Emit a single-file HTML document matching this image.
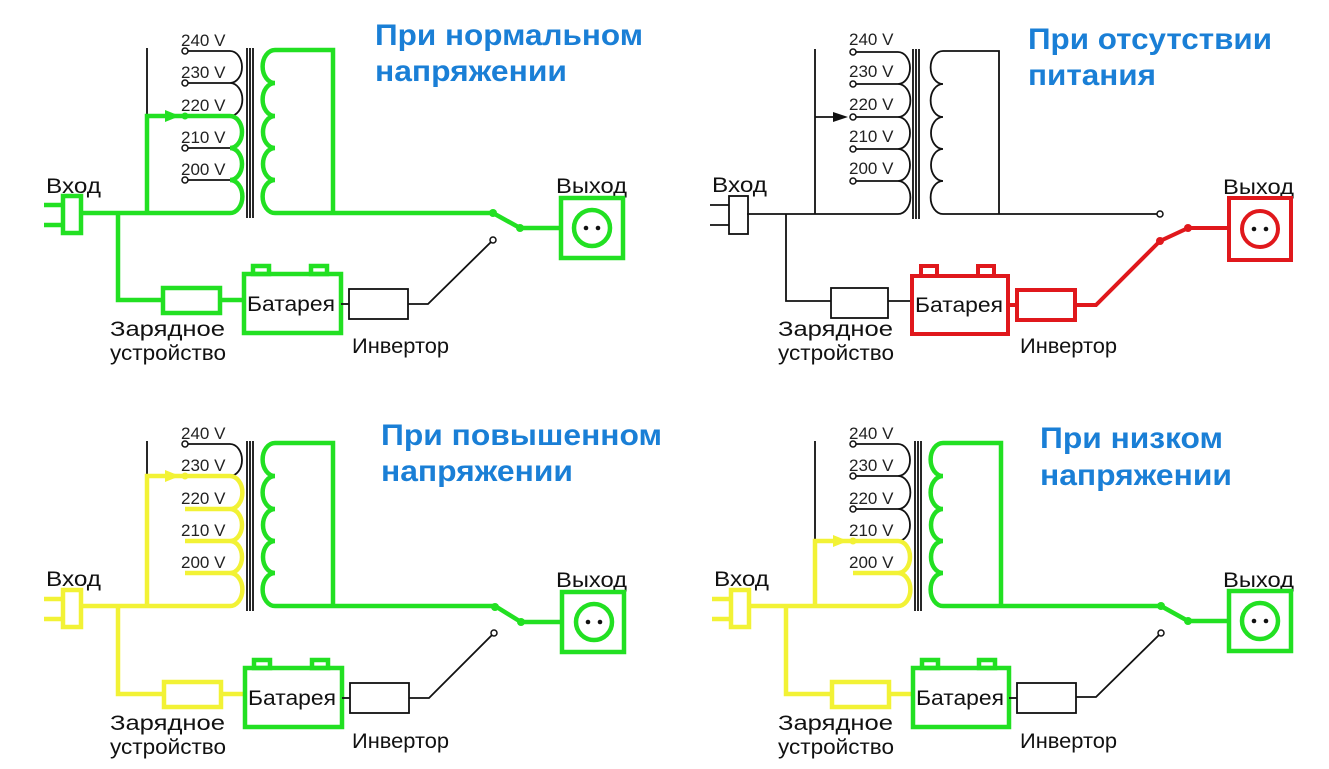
<!DOCTYPE html>
<html><head><meta charset="utf-8"><style>
html,body{margin:0;padding:0;background:#fff;}
svg{display:block;}
text{font-family:"Liberation Sans",sans-serif;}
.v{font-size:17px;fill:#222;}
.l{font-size:21px;fill:#111;}
.t{font-size:30px;font-weight:bold;fill:#1a7fd6;}
.k{stroke:#111;stroke-width:1.8;fill:none;}
.G{stroke:#22e022;stroke-width:4.5;fill:none;}
.Y{stroke:#f2f235;stroke-width:4.5;fill:none;}
.R{stroke:#e0181c;stroke-width:4;fill:none;}
</style></head><body>
<svg width="1329" height="769" viewBox="0 0 1329 769" xmlns="http://www.w3.org/2000/svg">

<!-- Panel 1 -->
<g>
<text class="v" x="181" y="46">240 V</text><text class="v" x="181" y="78">230 V</text><text class="v" x="181" y="111">220 V</text><text class="v" x="181" y="143">210 V</text><text class="v" x="181" y="175">200 V</text>
<text class="l" x="46" y="193" textLength="55" lengthAdjust="spacingAndGlyphs">Вход</text><text class="l" x="556" y="193" textLength="71" lengthAdjust="spacingAndGlyphs">Выход</text>
<text class="l" x="110" y="336" textLength="115" lengthAdjust="spacingAndGlyphs">Зарядное</text><text class="l" x="110" y="360" textLength="116" lengthAdjust="spacingAndGlyphs">устройство</text>
<text class="l" x="352" y="353" textLength="97" lengthAdjust="spacingAndGlyphs">Инвертор</text>
<path class="k" d="M147,48V116M185,51H230M185,83H230M185,148H230M185,180H230M230,51A12,16 0 0 1 230,83A12,16 0 0 1 230,116"/>
<circle cx="185" cy="51" r="3" fill="#fff" stroke="#111" stroke-width="1.5"/><circle cx="185" cy="83" r="3" fill="#fff" stroke="#111" stroke-width="1.5"/><circle cx="185" cy="148" r="3" fill="#fff" stroke="#111" stroke-width="1.5"/><circle cx="185" cy="180" r="3" fill="#fff" stroke="#111" stroke-width="1.5"/>
<path class="G" d="M147,213V116H230A12,16 0 0 1 230,148A12,16 0 0 1 230,180A12,16 0 0 1 230,213H82"/>
<path d="M165,110L180,116L165,122Z" fill="#22e022"/><circle cx="185" cy="116" r="3.5" fill="#22e022"/>
<path class="G" d="M44,205H62M44,225H62"/><rect class="G" x="63" y="196" width="18" height="37"/>
<path class="k" d="M247,48V218M250,48V218M253,48V218"/>
<path class="G" d="M333,213V50H275A12,16 0 0 0 275,83A12,16 0 0 0 275,116A12,16 0 0 0 275,148A12,16 0 0 0 275,180A12,16 0 0 0 275,213H493L520,228H560"/>
<circle cx="493" cy="213" r="4" fill="#22e022"/><circle cx="520" cy="228" r="4" fill="#22e022"/>
<rect class="G" x="561" y="198" width="62" height="60"/><circle class="G" cx="592" cy="228" r="18"/><circle cx="586" cy="228" r="2.3" fill="#111"/><circle cx="598" cy="228" r="2.3" fill="#111"/>
<path class="k" d="M408,304H428L491,242"/><circle cx="493" cy="240" r="3" fill="#fff" stroke="#111" stroke-width="1.5"/>
<path class="G" d="M118,213V300H163M220,300H243"/><rect class="G" x="163" y="288" width="57" height="25"/>
<rect class="G" x="244" y="274" width="97" height="59"/><rect class="G" x="253" y="266" width="16" height="8"/><rect class="G" x="311" y="266" width="16" height="8"/>
<text class="l" x="247" y="311" textLength="88" lengthAdjust="spacingAndGlyphs">Батарея</text>
<path class="k" d="M341,304H349"/><rect class="k" x="349" y="289" width="59" height="30"/>
</g>

<!-- Panel 2 -->
<g transform="translate(668,1)">
<text class="v" x="181" y="44">240 V</text><text class="v" x="181" y="76">230 V</text><text class="v" x="181" y="109">220 V</text><text class="v" x="181" y="141">210 V</text><text class="v" x="181" y="173">200 V</text>
<text class="l" x="44" y="191" textLength="55" lengthAdjust="spacingAndGlyphs">Вход</text><text class="l" x="555" y="193" textLength="71" lengthAdjust="spacingAndGlyphs">Выход</text>
<text class="l" x="110" y="335" textLength="115" lengthAdjust="spacingAndGlyphs">Зарядное</text><text class="l" x="110" y="359" textLength="116" lengthAdjust="spacingAndGlyphs">устройство</text>
<text class="l" x="352" y="352" textLength="97" lengthAdjust="spacingAndGlyphs">Инвертор</text>
<path class="k" d="M147,48V213M147,116H175M185,51H230M185,83H230M185,116H230M185,148H230M185,180H230M230,51A12,16 0 0 1 230,83A12,16 0 0 1 230,116A12,16 0 0 1 230,148A12,16 0 0 1 230,180A12,16 0 0 1 230,213H79"/>
<path d="M165,111L180,116L165,121Z" fill="#111"/>
<circle cx="185" cy="51" r="3" fill="#fff" stroke="#111" stroke-width="1.5"/><circle cx="185" cy="83" r="3" fill="#fff" stroke="#111" stroke-width="1.5"/><circle cx="185" cy="116" r="3" fill="#fff" stroke="#111" stroke-width="1.5"/><circle cx="185" cy="148" r="3" fill="#fff" stroke="#111" stroke-width="1.5"/><circle cx="185" cy="180" r="3" fill="#fff" stroke="#111" stroke-width="1.5"/>
<path class="k" d="M42,204H61M42,224H61"/><rect class="k" x="61" y="195" width="19" height="38"/>
<path class="k" d="M245,48V218M248,48V218M251,48V218"/>
<path class="k" d="M331,213V50H275A12,16 0 0 0 275,83A12,16 0 0 0 275,116A12,16 0 0 0 275,148A12,16 0 0 0 275,180A12,16 0 0 0 275,213H489"/>
<circle cx="492" cy="213" r="3" fill="#fff" stroke="#111" stroke-width="1.5"/>
<path class="R" d="M408,304H428L492,240L520,227H560"/>
<circle cx="492" cy="240" r="4" fill="#e0181c"/><circle cx="520" cy="227" r="4" fill="#e0181c"/>
<rect class="R" x="561" y="197" width="62" height="62"/><circle class="R" cx="592" cy="228" r="18"/><circle cx="586" cy="228" r="2.3" fill="#111"/><circle cx="598" cy="228" r="2.3" fill="#111"/>
<path class="k" d="M118,213V300H163M220,300H243"/><rect class="k" x="163" y="287" width="57" height="30"/>
<rect class="R" x="244" y="275" width="96" height="58"/><rect class="R" x="253" y="265" width="16" height="10"/><rect class="R" x="310" y="265" width="16" height="10"/>
<text class="l" x="247" y="311" textLength="88" lengthAdjust="spacingAndGlyphs">Батарея</text>
<path class="R" d="M340,304H349"/><rect class="R" x="349" y="289" width="58" height="30"/>
</g>

<!-- Panel 3 -->
<g transform="translate(0,393)">
<text class="v" x="181" y="46">240 V</text><text class="v" x="181" y="78">230 V</text><text class="v" x="181" y="111">220 V</text><text class="v" x="181" y="143">210 V</text><text class="v" x="181" y="175">200 V</text>
<text class="l" x="46" y="193" textLength="55" lengthAdjust="spacingAndGlyphs">Вход</text><text class="l" x="556" y="194" textLength="71" lengthAdjust="spacingAndGlyphs">Выход</text>
<text class="l" x="110" y="337" textLength="115" lengthAdjust="spacingAndGlyphs">Зарядное</text><text class="l" x="110" y="361" textLength="116" lengthAdjust="spacingAndGlyphs">устройство</text>
<text class="l" x="352" y="355" textLength="97" lengthAdjust="spacingAndGlyphs">Инвертор</text>
<path class="k" d="M147,48V83M185,51H230M230,51A12,16 0 0 1 230,83"/>
<circle cx="185" cy="51" r="3" fill="#fff" stroke="#111" stroke-width="1.5"/>
<path class="Y" d="M147,213V83H230A12,16 0 0 1 230,116A12,16 0 0 1 230,148A12,16 0 0 1 230,180A12,16 0 0 1 230,213H82M185,116H230M185,148H230M185,180H230"/>
<path d="M165,77L180,83L165,89Z" fill="#f2f235"/><circle cx="185" cy="83" r="3.5" fill="#f2f235"/>
<path class="Y" d="M44,206H62M44,226H62"/><rect class="Y" x="63" y="197" width="18" height="37"/>
<path class="k" d="M247,48V218M250,48V218M253,48V218"/>
<path class="G" d="M333,213V50H275A12,16 0 0 0 275,83A12,16 0 0 0 275,116A12,16 0 0 0 275,148A12,16 0 0 0 275,180A12,16 0 0 0 275,213H495L521,229H561"/>
<circle cx="495" cy="214" r="4" fill="#22e022"/><circle cx="521" cy="229" r="4" fill="#22e022"/>
<rect class="G" x="562" y="199" width="62" height="60"/><circle class="G" cx="594" cy="229" r="18"/><circle cx="588" cy="229" r="2.3" fill="#111"/><circle cx="600" cy="229" r="2.3" fill="#111"/>
<path class="k" d="M409,305H429L492,242"/><circle cx="494" cy="240" r="3" fill="#fff" stroke="#111" stroke-width="1.5"/>
<path class="Y" d="M118,213V301H164M221,301H244"/><rect class="Y" x="164" y="289" width="57" height="25"/>
<rect class="G" x="245" y="275" width="97" height="59"/><rect class="G" x="254" y="267" width="16" height="8"/><rect class="G" x="312" y="267" width="16" height="8"/>
<text class="l" x="248" y="312" textLength="88" lengthAdjust="spacingAndGlyphs">Батарея</text>
<path class="k" d="M342,305H350"/><rect class="k" x="350" y="290" width="59" height="30"/>
</g>

<!-- Panel 4 -->
<g transform="translate(668,393)">
<text class="v" x="181" y="46">240 V</text><text class="v" x="181" y="78">230 V</text><text class="v" x="181" y="111">220 V</text><text class="v" x="181" y="143">210 V</text><text class="v" x="181" y="175">200 V</text>
<text class="l" x="46" y="193" textLength="55" lengthAdjust="spacingAndGlyphs">Вход</text><text class="l" x="555" y="194" textLength="71" lengthAdjust="spacingAndGlyphs">Выход</text>
<text class="l" x="110" y="337" textLength="115" lengthAdjust="spacingAndGlyphs">Зарядное</text><text class="l" x="110" y="361" textLength="116" lengthAdjust="spacingAndGlyphs">устройство</text>
<text class="l" x="352" y="355" textLength="97" lengthAdjust="spacingAndGlyphs">Инвертор</text>
<path class="k" d="M147,48V148M185,51H230M185,83H230M185,116H230M230,51A12,16 0 0 1 230,83A12,16 0 0 1 230,116A12,16 0 0 1 230,148"/>
<circle cx="185" cy="51" r="3" fill="#fff" stroke="#111" stroke-width="1.5"/><circle cx="185" cy="83" r="3" fill="#fff" stroke="#111" stroke-width="1.5"/><circle cx="185" cy="116" r="3" fill="#fff" stroke="#111" stroke-width="1.5"/>
<path class="Y" d="M147,213V148H230A12,16 0 0 1 230,180A12,16 0 0 1 230,213H82M185,180H230"/>
<path d="M165,142L180,148L165,154Z" fill="#f2f235"/><circle cx="185" cy="148" r="3.5" fill="#f2f235"/>
<path class="Y" d="M44,206H62M44,226H62"/><rect class="Y" x="63" y="197" width="18" height="37"/>
<path class="k" d="M247,48V218M250,48V218M253,48V218"/>
<path class="G" d="M333,213V50H275A12,16 0 0 0 275,83A12,16 0 0 0 275,116A12,16 0 0 0 275,148A12,16 0 0 0 275,180A12,16 0 0 0 275,213H493L520,228H560"/>
<circle cx="493" cy="213" r="4" fill="#22e022"/><circle cx="520" cy="228" r="4" fill="#22e022"/>
<rect class="G" x="561" y="198" width="62" height="60"/><circle class="G" cx="592" cy="228" r="18"/><circle cx="586" cy="228" r="2.3" fill="#111"/><circle cx="598" cy="228" r="2.3" fill="#111"/>
<path class="k" d="M408,304H428L491,242"/><circle cx="493" cy="240" r="3" fill="#fff" stroke="#111" stroke-width="1.5"/>
<path class="Y" d="M118,213V301H164M221,301H244"/><rect class="Y" x="164" y="289" width="57" height="25"/>
<rect class="G" x="245" y="275" width="96" height="59"/><rect class="G" x="254" y="267" width="16" height="8"/><rect class="G" x="311" y="267" width="16" height="8"/>
<text class="l" x="248" y="312" textLength="88" lengthAdjust="spacingAndGlyphs">Батарея</text>
<path class="k" d="M341,305H349"/><rect class="k" x="349" y="290" width="59" height="30"/>
</g>

<text class="t" x="375" y="45" textLength="268" lengthAdjust="spacingAndGlyphs">При нормальном</text><text class="t" x="375" y="81" textLength="192" lengthAdjust="spacingAndGlyphs">напряжении</text>
<text class="t" x="1028" y="49" textLength="244" lengthAdjust="spacingAndGlyphs">При отсутствии</text><text class="t" x="1028" y="85" textLength="128" lengthAdjust="spacingAndGlyphs">питания</text>
<text class="t" x="381" y="445" textLength="281" lengthAdjust="spacingAndGlyphs">При повышенном</text><text class="t" x="381" y="481" textLength="192" lengthAdjust="spacingAndGlyphs">напряжении</text>
<text class="t" x="1040" y="448" textLength="183" lengthAdjust="spacingAndGlyphs">При низком</text><text class="t" x="1040" y="485" textLength="192" lengthAdjust="spacingAndGlyphs">напряжении</text>
</svg>
</body></html>
